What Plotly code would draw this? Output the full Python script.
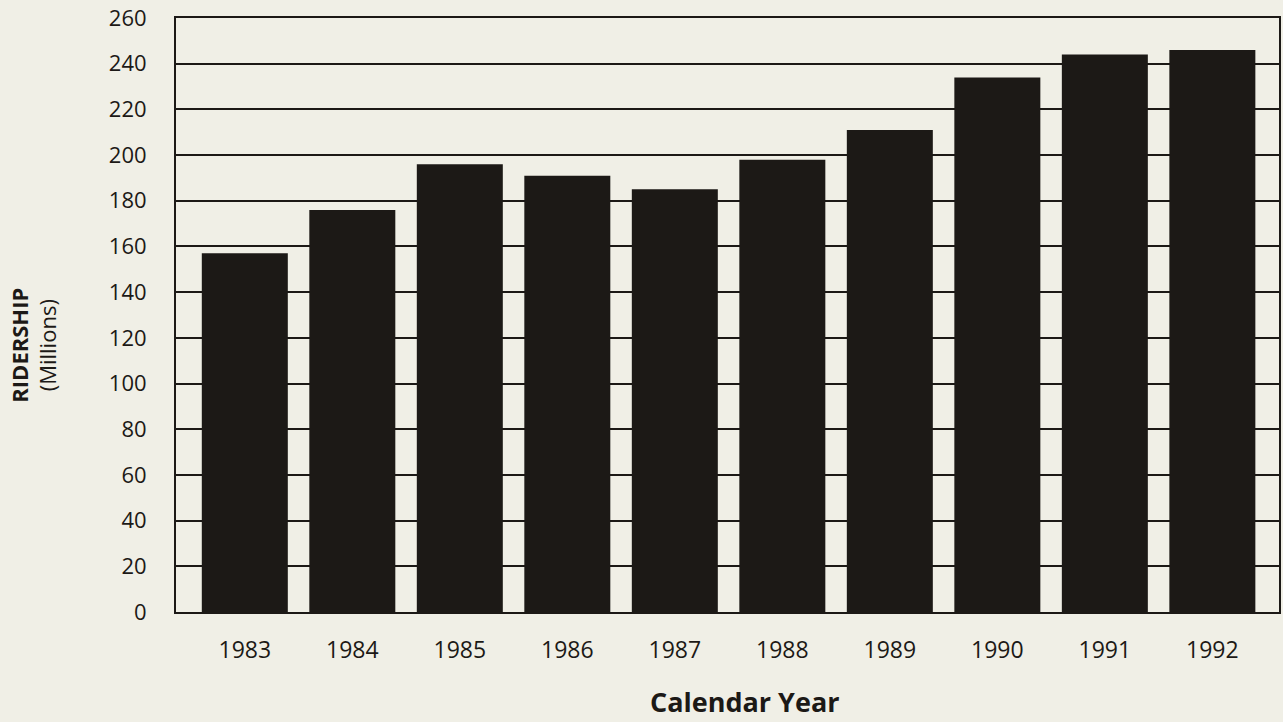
import plotly.graph_objects as go

years = ["1983", "1984", "1985", "1986", "1987", "1988", "1989", "1990", "1991", "1992"]
ridership = [157, 176, 196, 191, 185, 198, 211, 234, 244, 246]
y_ticks = list(range(0, 261, 20))

BG = "#f0efe6"
INK = "#1c1916"
FONT = "Open Sans"

W, H = 1283, 722
ML, MR, MT, MB = 176, 2, 17, 110

fig = go.Figure(
    go.Bar(
        x=list(range(len(years))),
        y=ridership,
        marker=dict(color=INK, line=dict(width=0)),
        width=0.8,
    )
)

pw = W - ML - MR
ph = H - MT - MB
def px_to_paper(xp, yp):
    return (xp - ML) / pw, (H - MB - yp) / ph

ax, ay = px_to_paper(746, 702)
bx, by = px_to_paper(33, 345)

fig.update_layout(
    width=W,
    height=H,
    paper_bgcolor=BG,
    plot_bgcolor=BG,
    margin=dict(l=ML, r=MR, t=MT, b=MB),
    showlegend=False,
    font=dict(family=FONT, color=INK, size=22),
    xaxis=dict(
        range=[-0.64, 9.62],
        tickvals=list(range(len(years))),
        ticktext=years,
        showgrid=False,
        zeroline=False,
        showline=True,
        linecolor=INK,
        linewidth=2,
        mirror=True,
        ticks="",
        ticklabelstandoff=16,
        tickfont=dict(size=23, family=FONT, color=INK),
    ),
    yaxis=dict(
        range=[0, 260],
        tickvals=y_ticks,
        showgrid=True,
        gridcolor=INK,
        gridwidth=2,
        zeroline=False,
        showline=True,
        linecolor=INK,
        linewidth=2,
        mirror=True,
        ticks="",
        ticklabelstandoff=23,
        tickfont=dict(size=22, family=FONT, color=INK),
    ),
    annotations=[
        dict(
            text="<b>Calendar Year</b>",
            x=ax, y=ay, xref="paper", yref="paper",
            xanchor="center", yanchor="middle",
            showarrow=False,
            font=dict(size=27, family=FONT, color=INK),
        ),
        dict(
            text="<b>RIDERSHIP</b><br>(Millions)",
            x=bx, y=by, xref="paper", yref="paper",
            xanchor="center", yanchor="middle",
            showarrow=False,
            textangle=-90,
            font=dict(size=22, family=FONT, color=INK),
        ),
    ],
)

fig.write_html(
    "out.html",
    config={"displayModeBar": False},
    post_script="document.body.style.margin='0';document.body.style.background='%s';" % BG,
)
